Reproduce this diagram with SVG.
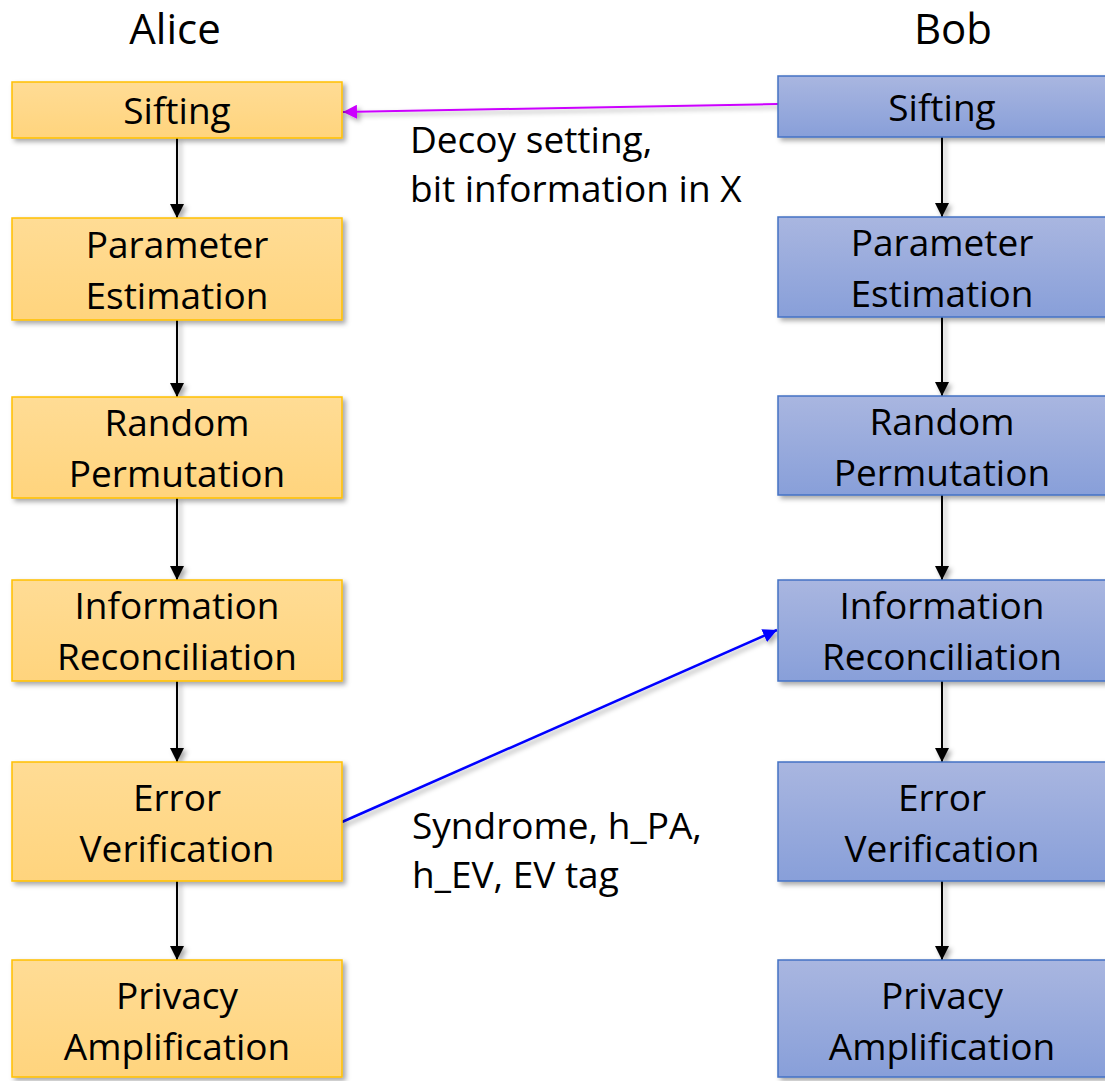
<svg xmlns="http://www.w3.org/2000/svg" width="1105" height="1081" viewBox="0 0 1105 1081">
<style>
text{font-family:"Open Sans","Liberation Sans",sans-serif;font-size:37px;fill:#000}
.t{text-anchor:middle}
.h{font-size:42px}
.a{fill:url(#ga);stroke:#FFC000;stroke-width:1.5}
.b{fill:url(#gb);stroke:#4472C4;stroke-width:1.5}
.c{stroke:#000;stroke-width:2;fill:none;marker-end:url(#mk)}
</style>
<defs>
<linearGradient id="ga" x1="0" y1="0" x2="0" y2="1"><stop offset="0" stop-color="#FFDC95"/><stop offset="1" stop-color="#FFD47D"/></linearGradient>
<linearGradient id="gb" x1="0" y1="0" x2="0" y2="1"><stop offset="0" stop-color="#A9B6E0"/><stop offset="1" stop-color="#889FD9"/></linearGradient>
<filter id="sh" x="-10%" y="-10%" width="120%" height="130%"><feDropShadow dx="3" dy="3" stdDeviation="2.5" flood-color="#000" flood-opacity="0.35"/></filter>
<marker id="mk" viewBox="0 0 10 10" refX="10" refY="5" markerWidth="14" markerHeight="14" markerUnits="userSpaceOnUse" orient="auto"><path d="M0,0L10,5L0,10z" fill="#000"/></marker>
<marker id="mm" viewBox="0 0 10 10" refX="10" refY="5" markerWidth="14" markerHeight="14" markerUnits="userSpaceOnUse" orient="auto"><path d="M0,0L10,5L0,10z" fill="#CC00FF"/></marker>
<marker id="mb" viewBox="0 0 10 10" refX="10" refY="5" markerWidth="14" markerHeight="14" markerUnits="userSpaceOnUse" orient="auto"><path d="M0,0L10,5L0,10z" fill="#0000FF"/></marker>
</defs>
<rect width="1105" height="1081" fill="#fff"/>
<text class="t h" x="175" y="44">Alice</text>
<text class="t h" x="953" y="44">Bob</text>
<g id="connectors" filter="url(#sh)">
<line class="c" x1="177" y1="138" x2="177" y2="218"/>
<line class="c" x1="177" y1="320" x2="177" y2="397"/>
<line class="c" x1="177" y1="498" x2="177" y2="580"/>
<line class="c" x1="177" y1="681" x2="177" y2="762"/>
<line class="c" x1="177" y1="881" x2="177" y2="960"/>
<line class="c" x1="942" y1="137" x2="942" y2="217"/>
<line class="c" x1="942" y1="317" x2="942" y2="396"/>
<line class="c" x1="942" y1="495" x2="942" y2="580"/>
<line class="c" x1="942" y1="681" x2="942" y2="762"/>
<line class="c" x1="942" y1="881" x2="942" y2="960"/>
<line x1="778" y1="104" x2="343" y2="112" stroke="#CC00FF" stroke-width="2" marker-end="url(#mm)"/>
<line x1="342" y1="822" x2="777" y2="630" stroke="#0000FF" stroke-width="2.5" marker-end="url(#mb)"/>
</g>
<g id="a1"><rect class="a" filter="url(#sh)" x="12" y="82" width="330" height="56"/><text class="t" x="177" y="124">Sifting</text></g>
<g id="a2"><rect class="a" filter="url(#sh)" x="12" y="218" width="330" height="102"/><text class="t" x="177" y="258">Parameter</text><text class="t" x="177" y="309">Estimation</text></g>
<g id="a3"><rect class="a" filter="url(#sh)" x="12" y="397" width="330" height="101"/><text class="t" x="177" y="436">Random</text><text class="t" x="177" y="487">Permutation</text></g>
<g id="a4"><rect class="a" filter="url(#sh)" x="12" y="580" width="330" height="101"/><text class="t" x="177" y="619">Information</text><text class="t" x="177" y="670">Reconciliation</text></g>
<g id="a5"><rect class="a" filter="url(#sh)" x="12" y="762" width="330" height="119"/><text class="t" x="177" y="811">Error</text><text class="t" x="177" y="862">Verification</text></g>
<g id="a6"><rect class="a" filter="url(#sh)" x="12" y="960" width="330" height="117"/><text class="t" x="177" y="1009">Privacy</text><text class="t" x="177" y="1060">Amplification</text></g>
<g id="b1"><rect class="b" filter="url(#sh)" x="778" y="76" width="330" height="61"/><text class="t" x="942" y="121">Sifting</text></g>
<g id="b2"><rect class="b" filter="url(#sh)" x="778" y="217" width="330" height="100"/><text class="t" x="942" y="256">Parameter</text><text class="t" x="942" y="307">Estimation</text></g>
<g id="b3"><rect class="b" filter="url(#sh)" x="778" y="396" width="330" height="99"/><text class="t" x="942" y="435">Random</text><text class="t" x="942" y="486">Permutation</text></g>
<g id="b4"><rect class="b" filter="url(#sh)" x="778" y="580" width="330" height="101"/><text class="t" x="942" y="619">Information</text><text class="t" x="942" y="670">Reconciliation</text></g>
<g id="b5"><rect class="b" filter="url(#sh)" x="778" y="762" width="330" height="119"/><text class="t" x="942" y="811">Error</text><text class="t" x="942" y="862">Verification</text></g>
<g id="b6"><rect class="b" filter="url(#sh)" x="778" y="960" width="330" height="117"/><text class="t" x="942" y="1009">Privacy</text><text class="t" x="942" y="1060">Amplification</text></g>
<text x="410" y="153">Decoy setting,</text>
<text x="410" y="202">bit information in X</text>
<text x="412" y="839">Syndrome, h_PA,</text>
<text x="412" y="888">h_EV, EV tag</text>
</svg>
